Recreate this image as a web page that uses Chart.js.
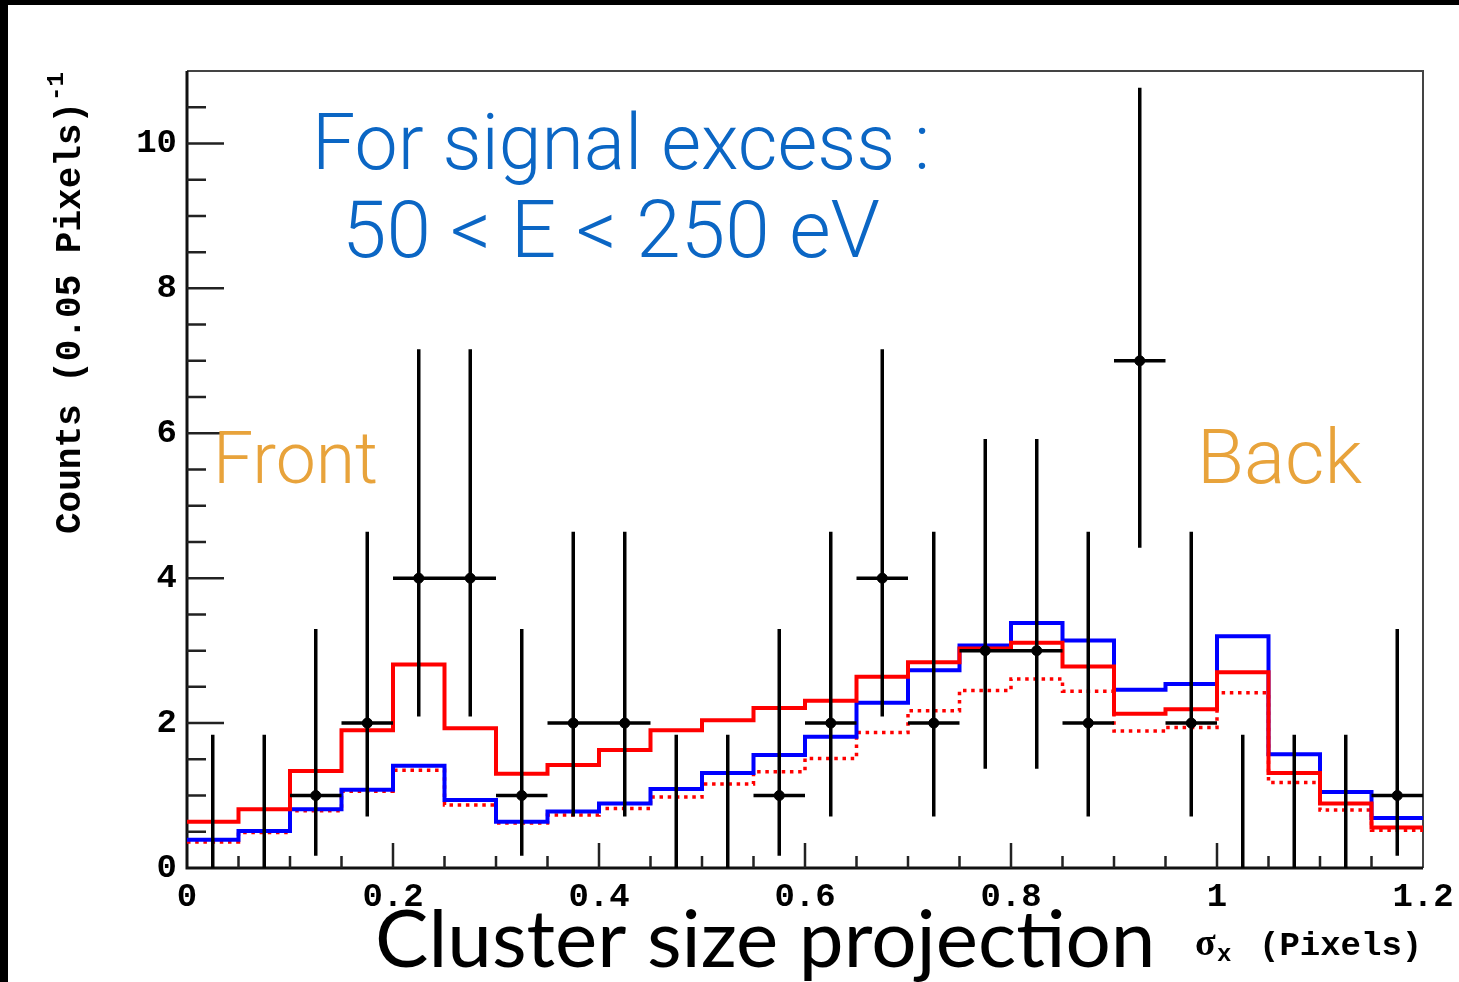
<!DOCTYPE html>
<html>
<head>
<meta charset="utf-8">
<script src="https://cdn.jsdelivr.net/npm/chart.js@4.4.1/dist/chart.umd.min.js"></script>
<style>
  html, body { margin: 0; padding: 0; background: #fff; }
  #c { display: block; }
</style>
</head>
<body>
<canvas id="c" width="1459" height="982"></canvas>
<script>
// sigma_x histogram, 0.05 pixel bins
const binLeft = [0, 0.05, 0.1, 0.15, 0.2, 0.25, 0.3, 0.35, 0.4, 0.45, 0.5, 0.55,
                 0.6, 0.65, 0.7, 0.75, 0.8, 0.85, 0.9, 0.95, 1.0, 1.05, 1.1, 1.15];
const binCenters = [0.025, 0.075, 0.125, 0.175, 0.225, 0.275, 0.325, 0.375, 0.425, 0.475, 0.525, 0.575,
                    0.625, 0.675, 0.725, 0.775, 0.825, 0.875, 0.925, 0.975, 1.025, 1.075, 1.125, 1.175];
const xMax = 1.2;
const binWidth = 0.05;

// observed counts with asymmetric (Poisson) error bounds
const counts    = [0, 0, 1, 2, 4, 4, 1, 2, 2, 0, 0, 1, 2, 4, 2, 3, 3, 2, 7, 2, 0, 0, 0, 1];
const countLow  = [0, 0, 0.17, 0.71, 2.09, 2.09, 0.17, 0.71, 0.71, 0, 0, 0.17,
                   0.71, 2.09, 0.71, 1.37, 1.37, 0.71, 4.42, 0.71, 0, 0, 0, 0.17];
const countHigh = [1.84, 1.84, 3.30, 4.64, 7.16, 7.16, 3.30, 4.64, 4.64, 1.84, 1.84, 3.30,
                   4.64, 7.16, 4.64, 5.92, 5.92, 4.64, 10.77, 4.64, 1.84, 1.84, 1.84, 3.30];

// expectation histograms
const histRed    = [0.64, 0.81, 1.34, 1.90, 2.81, 1.93, 1.30, 1.42, 1.63, 1.90, 2.04, 2.21,
                    2.31, 2.64, 2.84, 3.03, 3.11, 2.78, 2.13, 2.19, 2.70, 1.31, 0.89, 0.56];
const histBlue   = [0.39, 0.51, 0.81, 1.08, 1.41, 0.94, 0.64, 0.78, 0.89, 1.09, 1.31, 1.56,
                    1.81, 2.28, 2.73, 3.07, 3.38, 3.14, 2.46, 2.54, 3.20, 1.57, 1.05, 0.69];
const histDotted = [0.36, 0.49, 0.79, 1.06, 1.35, 0.87, 0.62, 0.73, 0.82, 0.98, 1.16, 1.33,
                    1.51, 1.87, 2.17, 2.45, 2.61, 2.44, 1.89, 1.94, 2.42, 1.18, 0.80, 0.52];

const xTicks = [0, 0.2, 0.4, 0.6, 0.8, 1, 1.2];
const xTickLabels = ['0', '0.2', '0.4', '0.6', '0.8', '1', '1.2'];
const yTicks = [0, 2, 4, 6, 8, 10];
const yTickLabels = ['0', '2', '4', '6', '8', '10'];

const MONO = '"Liberation Mono", "DejaVu Sans Mono", monospace';

function stepPoints(values) {
  const pts = binLeft.map((x, i) => ({ x: x, y: values[i] }));
  pts.push({ x: xMax, y: values[values.length - 1] });
  return pts;
}

// error bars as broken line segments (null breaks the path)
const errSegments = [];
binCenters.forEach((c, i) => {
  errSegments.push({ x: c, y: countLow[i] }, { x: c, y: countHigh[i] }, { x: c, y: null });
  if (counts[i] > 0) {
    errSegments.push({ x: c - binWidth / 2, y: counts[i] }, { x: c + binWidth / 2, y: counts[i] }, { x: c, y: null });
  }
});
const markers = [];
binCenters.forEach((c, i) => { if (counts[i] > 0) markers.push({ x: c, y: counts[i] }); });

function fitText(ctx, text, x, y, width, weight, family, color) {
  ctx.font = weight + ' 100px ' + family;
  const size = 100 * width / ctx.measureText(text).width;
  ctx.font = weight + ' ' + size.toFixed(1) + 'px ' + family;
  ctx.fillStyle = color;
  ctx.textAlign = 'left';
  ctx.textBaseline = 'alphabetic';
  ctx.fillText(text, x, y);
}

const framePlugin = {
  id: 'frame',
  beforeDraw(chart) {
    const ctx = chart.ctx;
    ctx.save();
    ctx.fillStyle = '#fff';
    ctx.fillRect(0, 0, chart.width, chart.height);
    ctx.fillStyle = '#000';
    ctx.fillRect(0, 0, 8, chart.height);
    ctx.fillRect(0, 0, chart.width, 5);
    ctx.restore();
  },
  beforeDatasetsDraw(chart) {
    const { ctx, chartArea: a, scales: { x, y } } = chart;
    ctx.save();
    // top and right edges
    ctx.strokeStyle = '#444';
    ctx.lineWidth = 2;
    ctx.beginPath();
    ctx.moveTo(a.left, a.top); ctx.lineTo(a.right, a.top); ctx.lineTo(a.right, a.bottom);
    ctx.stroke();
    // axes
    ctx.strokeStyle = '#111';
    ctx.lineWidth = 3;
    ctx.beginPath();
    ctx.moveTo(a.left, a.top); ctx.lineTo(a.left, a.bottom); ctx.lineTo(a.right, a.bottom);
    ctx.stroke();
    // inward ticks
    ctx.lineWidth = 2.5;
    ctx.strokeStyle = '#222';
    ctx.beginPath();
    for (let k = 1; k < 24; k++) {
      const px = x.getPixelForValue(k * binWidth);
      const len = k % 4 === 0 ? 25 : 12;
      ctx.moveTo(px, a.bottom); ctx.lineTo(px, a.bottom - len);
    }
    for (let k = 1; k <= 21; k++) {
      const py = y.getPixelForValue(k * 0.5);
      const len = k % 4 === 0 ? 37 : 19;
      ctx.moveTo(a.left, py); ctx.lineTo(a.left + len, py);
    }
    ctx.stroke();
    ctx.restore();
  },
  afterDraw(chart) {
    const ctx = chart.ctx;
    ctx.save();
    // y axis title
    ctx.save();
    ctx.translate(80, 534);
    ctx.rotate(-Math.PI / 2);
    ctx.fillStyle = '#000';
    ctx.font = 'bold 36px ' + MONO;
    ctx.textAlign = 'left';
    ctx.textBaseline = 'alphabetic';
    const main = 'Counts (0.05 Pixels)';
    ctx.fillText(main, 0, 0);
    const w = ctx.measureText(main).width;
    ctx.font = 'bold 24px ' + MONO;
    ctx.fillText('-1', w + 1, -17);
    ctx.restore();

    // x axis title
    ctx.fillStyle = '#000';
    ctx.textBaseline = 'alphabetic';
    ctx.textAlign = 'left';
    ctx.font = 'bold 38px "Liberation Serif", "DejaVu Serif", serif';
    ctx.fillText('\u03c3', 1195, 955);
    ctx.font = 'bold 24px ' + MONO;
    ctx.fillText('x', 1217, 961);
    ctx.font = 'bold 34px ' + MONO;
    ctx.fillText('(Pixels)', 1259, 955);

    // annotations
    const sans = 'Roboto, "Liberation Sans", sans-serif';
    fitText(ctx, 'For signal excess :', 312, 169, 618, '300', sans, '#0b66c4');
    fitText(ctx, '50 < E < 250 eV', 342, 257, 538, '300', sans, '#0b66c4');
    fitText(ctx, 'Front', 213, 483, 165, '300', sans, '#e8a33b');
    fitText(ctx, 'Back', 1197, 483, 165, '300', sans, '#e8a33b');
    fitText(ctx, 'Cluster size projection', 375, 967, 780, '400', 'Lato, "Open Sans", sans-serif', '#000');
    ctx.restore();
  }
};

new Chart(document.getElementById('c').getContext('2d'), {
  type: 'line',
  data: {
    datasets: [
      {
        label: 'data',
        data: errSegments,
        borderColor: '#000',
        borderWidth: 3.5,
        borderCapStyle: 'butt',
        pointRadius: 0,
        spanGaps: false,
        order: 0
      },
      {
        label: 'markers',
        data: markers,
        showLine: false,
        pointRadius: 5,
        pointBackgroundColor: '#000',
        pointBorderColor: '#000',
        order: 0
      },
      {
        label: 'red',
        data: stepPoints(histRed),
        stepped: 'before',
        borderColor: '#ff0000',
        borderWidth: 4,
        pointRadius: 0,
        order: 1
      },
      {
        label: 'blue',
        data: stepPoints(histBlue),
        stepped: 'before',
        borderColor: '#0000ff',
        borderWidth: 4,
        pointRadius: 0,
        order: 2
      },
      {
        label: 'red dotted',
        data: stepPoints(histDotted),
        stepped: 'before',
        borderColor: '#ff0000',
        borderWidth: 3.5,
        borderDash: [3.5, 4.7],
        borderCapStyle: 'butt',
        pointRadius: 0,
        order: 3
      }
    ]
  },
  options: {
    responsive: false,
    animation: false,
    events: [],
    layout: { padding: { left: 0, top: 71, right: 36, bottom: 0 } },
    plugins: {
      legend: { display: false },
      tooltip: { enabled: false }
    },
    scales: {
      x: {
        type: 'linear',
        min: 0,
        max: xMax,
        grid: { display: false, drawTicks: false },
        border: { display: false },
        afterBuildTicks: (scale) => { scale.ticks = xTicks.map(v => ({ value: v })); },
        afterFit: (scale) => {
          scale.height = 114;
          scale.paddingLeft = 0;
          scale.paddingRight = 0;
        },
        ticks: {
          autoSkip: false,
          maxRotation: 0,
          padding: 9,
          color: '#000',
          font: { family: MONO, size: 34, weight: 'bold' },
          callback: (v, i) => xTickLabels[i]
        }
      },
      y: {
        type: 'linear',
        min: 0,
        max: 11,
        grid: { display: false, drawTicks: false },
        border: { display: false },
        afterBuildTicks: (scale) => { scale.ticks = yTicks.map(v => ({ value: v })); },
        afterFit: (scale) => {
          scale.width = 187;
          scale.paddingTop = 0;
          scale.paddingBottom = 0;
        },
        ticks: {
          padding: 10,
          color: '#000',
          font: { family: MONO, size: 34, weight: 'bold' },
          callback: (v, i) => yTickLabels[i]
        }
      }
    }
  },
  plugins: [framePlugin]
});
</script>
</body>
</html>
